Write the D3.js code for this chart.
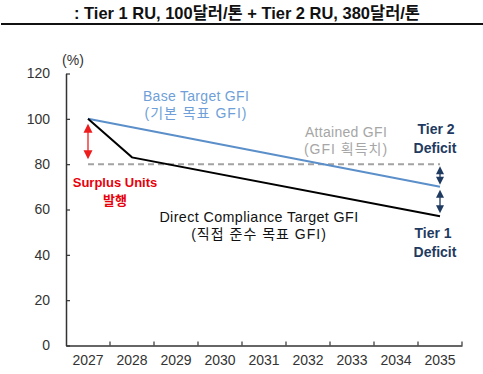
<!DOCTYPE html>
<html>
<head>
<meta charset="utf-8">
<script src="https://cdn.jsdelivr.net/npm/d3@7"></script>
<style>
  body { margin: 0; background: #fff; }
  text { font-family: "Liberation Sans", Arial, "Noto Sans CJK KR", sans-serif; }
</style>
</head>
<body>
<div id="chart"></div>
<script>
// data
var years = ["2027", "2028", "2029", "2030", "2031", "2032", "2033", "2034", "2035"];
var yTicks = [0, 20, 40, 60, 80, 100, 120];
var baseYears = ["2027", "2035"];
var baseValues = [100, 70];
var directYears = ["2027", "2028", "2035"];
var directValues = [100, 83, 57];
var attainedYears = ["2027", "2035"];
var attainedValues = [80, 80];

var svgWidth = 483;
var svgHeight = 374;

var svg = d3.select("#chart")
  .append("svg")
  .attr("width", svgWidth)
  .attr("height", svgHeight);

// title + rule
svg.append("text")
  .attr("x", 247)
  .attr("y", 19)
  .attr("text-anchor", "middle")
  .attr("font-size", "17px")
  .attr("font-weight", "bold")
  .attr("textLength", 346)
  .attr("lengthAdjust", "spacingAndGlyphs")
  .attr("fill", "#111")
  .text(": Tier 1 RU, 100달러/톤 + Tier 2 RU, 380달러/톤");

svg.append("rect")
  .attr("x", 1).attr("y", 23)
  .attr("width", 482).attr("height", 2)
  .attr("fill", "#111");

// scales
var x = d3.scaleBand().domain(years).range([66, 462]);
var y = d3.scaleLinear().domain([0, 120]).range([345.5, 73.5]);
var cx = d => x(d) + x.bandwidth() / 2;

// y axis
var leftAxis = d3.axisLeft(y)
  .tickValues(yTicks)
  .tickSizeInner(-4)
  .tickSizeOuter(0)
  .tickPadding(16);

var gy = svg.append("g")
  .attr("transform", "translate(66,0)")
  .call(leftAxis);
gy.select(".domain").attr("stroke", "#333").attr("stroke-width", 1.5);
gy.selectAll(".tick line").attr("stroke", "#333").attr("stroke-width", 1.2);
gy.selectAll(".tick text")
  .attr("font-size", "14px")
  .attr("fill", "#333")
  .attr("font-family", "Liberation Sans, Arial, sans-serif");

// x axis: labels centered, ticks at band boundaries
var bottomAxis = d3.axisBottom(x).tickSize(0).tickPadding(10);
var gx = svg.append("g")
  .attr("transform", "translate(0,345.5)")
  .call(bottomAxis);
gx.select(".domain").attr("stroke", "#333").attr("stroke-width", 1.5);
gx.selectAll(".tick text")
  .attr("font-size", "14px")
  .attr("fill", "#333")
  .attr("font-family", "Liberation Sans, Arial, sans-serif");

var bounds = years.slice(1).map(d => x(d)).concat([x.range()[1]]);
gx.selectAll(".btick")
  .data(bounds)
  .enter()
  .append("line")
  .attr("class", "btick")
  .attr("x1", d => d).attr("x2", d => d)
  .attr("y1", 0).attr("y2", -4)
  .attr("stroke", "#333")
  .attr("stroke-width", 1.2);

// "(%)"
svg.append("text")
  .attr("x", 73).attr("y", 65)
  .attr("text-anchor", "middle")
  .attr("font-size", "14px")
  .attr("fill", "#333")
  .text("(%)");

var line = d3.line().x(d => cx(d[0])).y(d => y(d[1]));

// attained GFI dashed
svg.append("path")
  .datum(d3.zip(attainedYears, attainedValues))
  .attr("d", line)
  .attr("fill", "none")
  .attr("stroke", "#a3a3a3")
  .attr("stroke-width", 2)
  .attr("stroke-dasharray", "6,4");

// base target
svg.append("path")
  .datum(d3.zip(baseYears, baseValues))
  .attr("d", line)
  .attr("fill", "none")
  .attr("stroke", "#5b8fc9")
  .attr("stroke-width", 2);

// direct compliance target
svg.append("path")
  .datum(d3.zip(directYears, directValues))
  .attr("d", line)
  .attr("fill", "none")
  .attr("stroke", "#000")
  .attr("stroke-width", 2);

// double arrows
function dblArrow(year, v1, v2, color, gap, hw, hh) {
  var xx = cx(year);
  var top = y(v1) + gap;
  var bot = y(v2) - gap;
  svg.append("line")
    .attr("x1", xx).attr("x2", xx)
    .attr("y1", top + hh - 1).attr("y2", bot - hh + 1)
    .attr("stroke", color)
    .attr("stroke-width", 1.3);
  svg.append("path")
    .attr("d", `M${xx},${top} L${xx - hw},${top + hh} L${xx + hw},${top + hh} Z`)
    .attr("fill", color);
  svg.append("path")
    .attr("d", `M${xx},${bot} L${xx - hw},${bot - hh} L${xx + hw},${bot - hh} Z`)
    .attr("fill", color);
}
dblArrow("2027", 100, 80, "#ee1c1c", 5, 4.5, 9);
dblArrow("2035", 80, 70, "#1f3a60", 2, 4, 8);
dblArrow("2035", 70, 57, "#1f3a60", 3, 4, 8);

// annotations
function label(txt, xx, yy, color, size, bold, spacing) {
  svg.append("text")
    .attr("x", xx).attr("y", yy)
    .attr("text-anchor", "middle")
    .attr("font-size", size)
    .attr("font-weight", bold ? "bold" : "normal")
    .attr("letter-spacing", spacing || 0)
    .attr("fill", color)
    .text(txt);
}
label("Base Target GFI", 196, 101, "#6f9fd8", "14px", false, 0.3);
label("(기본 목표 GFI)", 196, 118, "#6f9fd8", "14px", false, 1);
label("Attained GFI", 346, 137, "#a6a6a6", "14px", false, 0.3);
label("(GFI 획득치)", 346, 154, "#a6a6a6", "14px", false, 1);
label("Direct Compliance Target GFI", 259, 222, "#111", "14.3px", false, 0.4);
label("(직접 준수 목표 GFI)", 259, 239, "#111", "14px", false, 1);
label("Surplus Units", 115, 187, "#e8000b", "13px", true);
label("발행", 115, 205, "#e8000b", "13px", true);
label("Tier 2", 436, 134, "#1f3a60", "14px", true);
label("Deficit", 435, 153, "#1f3a60", "14px", true);
label("Tier 1", 433, 238, "#1f3a60", "14px", true);
label("Deficit", 435, 257, "#1f3a60", "14px", true);
</script>
</body>
</html>
